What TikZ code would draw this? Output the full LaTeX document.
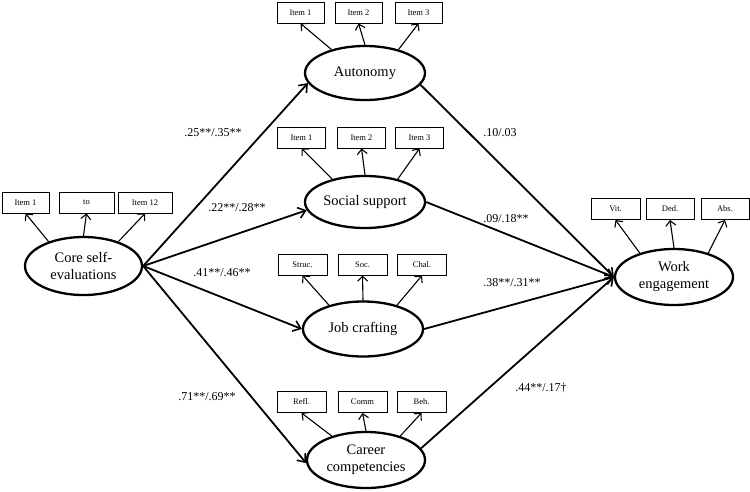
\documentclass[tikz,border=0pt]{standalone}
\usepackage{fontspec}
\setmainfont{Liberation Serif}
\usetikzlibrary{shapes.geometric,arrows.meta}
\begin{document}
\begin{tikzpicture}[x=1pt,y=-1pt,
  latent/.style={ellipse,draw,line width=2.3pt,inner sep=0pt,align=center,font=\fontsize{14.5}{17}\selectfont},
  itembox/.style={rectangle,draw,line width=0.9pt,minimum width=47pt,minimum height=21pt,inner sep=0pt,font=\fontsize{8.5}{10}\selectfont},
  mainarrow/.style={line width=1.8pt,-{Straight Barb[length=7pt,width=11pt,line width=1.6pt]}},
  itemarrow/.style={line width=1.1pt,-{Straight Barb[length=5pt,width=10pt,line width=1.1pt]}},
  coef/.style={font=\fontsize{12}{14}\selectfont,inner sep=0pt}
]
\useasboundingbox (0,0) rectangle (750,491);

% latent variables
\node[latent,minimum width=117pt,minimum height=58pt] (core) at (83.5,266) {Core self-\\evaluations};
\node[latent,minimum width=120pt,minimum height=54pt] (auto) at (365,73) {Autonomy};
\node[latent,minimum width=120pt,minimum height=52pt] (social) at (365,202) {Social support};
\node[latent,minimum width=120pt,minimum height=55pt] (job) at (363,329) {Job crafting};
\node[latent,minimum width=118pt,minimum height=56pt] (career) at (366,460) {Career\\competencies};
\node[latent,minimum width=118pt,minimum height=56pt] (work) at (674,277) {Work\\engagement};

% indicator boxes
\node[itembox] (c1) at (25.5,202.5) {Item 1};
\node[itembox,minimum width=55pt] (c2) at (86.5,202.5) {to};
\node[itembox,minimum width=54pt] (c3) at (145,202.5) {Item 12};

\node[itembox] (a1) at (300.5,12.5) {Item 1};
\node[itembox] (a2) at (358.5,12.5) {Item 2};
\node[itembox] (a3) at (418.5,12.5) {Item 3};

\node[itembox,minimum width=48pt] (s1) at (301.5,137.5) {Item 1};
\node[itembox,minimum width=48pt] (s2) at (361.5,137.5) {Item 2};
\node[itembox,minimum width=48pt] (s3) at (419.5,137.5) {Item 3};

\node[itembox,minimum width=49pt] (j1) at (302.5,264.5) {Struc.};
\node[itembox,minimum width=49pt] (j2) at (362.5,264.5) {Soc.};
\node[itembox,minimum width=49pt] (j3) at (422,264.5) {Chal.};

\node[itembox,minimum width=49pt] (r1) at (301.5,402) {Refl.};
\node[itembox,minimum width=49pt] (r2) at (362.5,402) {Comm};
\node[itembox,minimum width=49pt] (r3) at (421.5,402) {Beh.};

\node[itembox,minimum width=49pt] (w1) at (615.5,209) {Vit.};
\node[itembox,minimum width=48pt] (w2) at (670,209) {Ded.};
\node[itembox,minimum width=48pt] (w3) at (725,209) {Abs.};

% indicator arrows
\foreach \l/\a/\b/\c in {core/c1/c2/c3, auto/a1/a2/a3, social/s1/s2/s3, job/j1/j2/j3, career/r1/r2/r3, work/w1/w2/w3}{
  \draw[itemarrow] (\l.145) -- (\a.south);
  \draw[itemarrow] (\l.north) -- (\b.south);
  \draw[itemarrow] (\l.35) -- (\c.south);
}

% structural paths
\coordinate (cs) at (core.east);
\draw[mainarrow] (cs) -- (auto.190);
\draw[mainarrow] (cs) -- (social.188);
\draw[mainarrow] (cs) -- (job.west);
\draw[mainarrow] (cs) -- (career.183);

\coordinate (we) at (work.west);
\draw[mainarrow] (auto.-12) -- (we);
\draw[mainarrow] (social.east) -- (we);
\draw[mainarrow] (job.east) -- (we);
\draw[mainarrow] (career.12) -- (we);

% coefficients
\node[coef] (k1) at (213,133) {.25**/.35**};
\node[coef] (k2) at (237,208) {.22**/.28**};
\node[coef] (k3) at (222,273) {.41**/.46**};
\node[coef] (k4) at (207,397) {.71**/.69**};
\node[coef] (k5) at (500,133) {.10/.03};
\node[coef] (k6) at (506,219) {.09/.18**};
\node[coef] (k7) at (512,283) {.38**/.31**};
\node[coef] (k8) at (541,388) {.44**/.17†};
\end{tikzpicture}
\end{document}
